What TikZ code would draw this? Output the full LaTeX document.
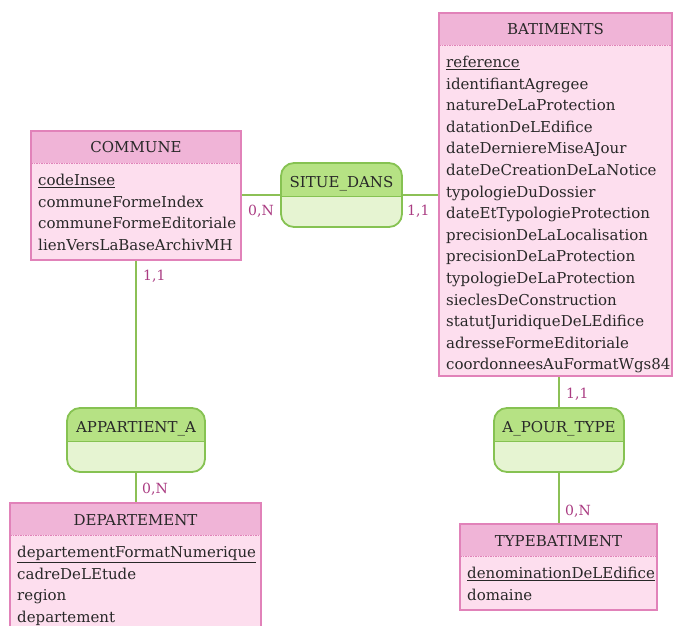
\documentclass[tikz,border=0pt]{standalone}
\usepackage{fontspec}
\setmainfont{DejaVu Serif}
\usetikzlibrary{backgrounds}
\definecolor{entHead}{RGB}{240,180,215}
\definecolor{entBody}{RGB}{253,222,238}
\definecolor{entLine}{RGB}{225,130,185}
\definecolor{asHead}{RGB}{182,226,132}
\definecolor{asBody}{RGB}{230,244,210}
\definecolor{asLine}{RGB}{134,194,82}
\definecolor{linkC}{RGB}{140,192,86}
\definecolor{cardC}{RGB}{170,60,130}
\definecolor{txt}{RGB}{40,40,40}
\tikzset{
  entbody/.style={rectangle, fill=entBody, inner sep=0, outer sep=0, anchor=north west},
  enthead/.style={rectangle, fill=entHead, inner sep=0, outer sep=0, anchor=north west,
    minimum height=32, text height=14, text depth=2, text=txt, font=\fontsize{15}{18}\selectfont},
  entborder/.style={draw=entLine, line width=1.6},
  entdiv/.style={draw=entLine, line width=0.9, dash pattern=on 1.5 off 1},
  attr/.style={anchor=base west, inner sep=0, text=txt, font=\fontsize{15}{18}\selectfont},
  assocbox/.style={rectangle, fill=asBody, inner sep=0, outer sep=0, minimum height=64, rounded corners=13},
  assoctitle/.style={anchor=base, inner sep=0, text=txt, font=\fontsize{15}{18}\selectfont},
  link/.style={draw=linkC, line width=2.6},
  card/.style={anchor=base west, inner sep=0, text=cardC, font=\fontsize{14}{16}\selectfont},
}
\newcommand{\mcdentity}[7]{%
  \node[entbody, minimum width=#4, minimum height=#5] (#1) at (#2,#3) {};
  \node[enthead, minimum width=#4] (#1-h) at (#2,#3) {#6};
  \draw[entdiv] (#1-h.south west) -- (#1-h.south east);
  \draw[entborder] (#1.north west) rectangle (#1.south east);
  \foreach \a [count=\i] in {#7} {
    \node[attr] (#1-a\i) at ({#2+7},{#3+54.5+(\i-1)*21.6}) {\a};
  }%
}
\newcommand{\mcdassoc}[5]{%
  \node[assocbox, minimum width=#4] (#1) at (#2,#3) {};
  \fill[asHead] ([yshift=-33pt]#1.north west) [rounded corners=13] -- (#1.north west) -- (#1.north east) [sharp corners] -- ([yshift=-33pt]#1.north east) -- cycle;
  \draw[asLine, line width=0.8] ([yshift=-33pt]#1.north west) -- ([yshift=-33pt]#1.north east);
  \draw[asLine, line width=1.8, rounded corners=13] (#1.north west) rectangle (#1.south east);
  \node[assoctitle] (#1-t) at ([yshift=-24pt]#1.north) {#5};
}
\begin{document}
\begin{tikzpicture}[x=1pt,y=-1pt]
\useasboundingbox (0,0) rectangle (673,626);
\clip (0,0) rectangle (673,626);

\mcdentity{commune}{31}{131}{210}{129}{COMMUNE}{\underline{codeInsee},communeFormeIndex,communeFormeEditoriale,lienVersLaBaseArchivMH}
\mcdentity{bat}{439}{13}{233}{363}{BATIMENTS}{\underline{reference},identifiantAgregee,natureDeLaProtection,datationDeLEdifice,dateDerniereMiseAJour,dateDeCreationDeLaNotice,typologieDuDossier,dateEtTypologieProtection,precisionDeLaLocalisation,precisionDeLaProtection,typologieDeLaProtection,sieclesDeConstruction,statutJuridiqueDeLEdifice,adresseFormeEditoriale,coordonneesAuFormatWgs84}
\mcdentity{dep}{10}{503}{251}{132}{DEPARTEMENT}{\underline{departementFormatNumerique},cadreDeLEtude,region,departement}
\mcdentity{typ}{460}{524}{197}{86}{TYPEBATIMENT}{\underline{denominationDeLEdifice},domaine}

\mcdassoc{sd}{341.5}{195}{121}{SITUE\_DANS}
\mcdassoc{app}{136}{440}{138}{APPARTIENT\_A}
\mcdassoc{apt}{559}{440}{130}{A\_POUR\_TYPE}

\begin{scope}[on background layer]
  \draw[link] (commune.east |- sd.center) -- (sd.center) -- (sd.center -| bat.west);
  \draw[link] (app.center |- commune.south) -- (app.center) -- (app.center |- dep.north);
  \draw[link] (apt.center |- bat.south) -- (apt.center) -- (apt.center |- typ.north);
\end{scope}

\node[card] (c1) at (248,215) {0,N};
\node[card] (c2) at (407,215) {1,1};
\node[card] (c3) at (143,280) {1,1};
\node[card] (c4) at (142,493) {0,N};
\node[card] (c5) at (566,398) {1,1};
\node[card] (c6) at (565,515) {0,N};
\end{tikzpicture}
\end{document}
